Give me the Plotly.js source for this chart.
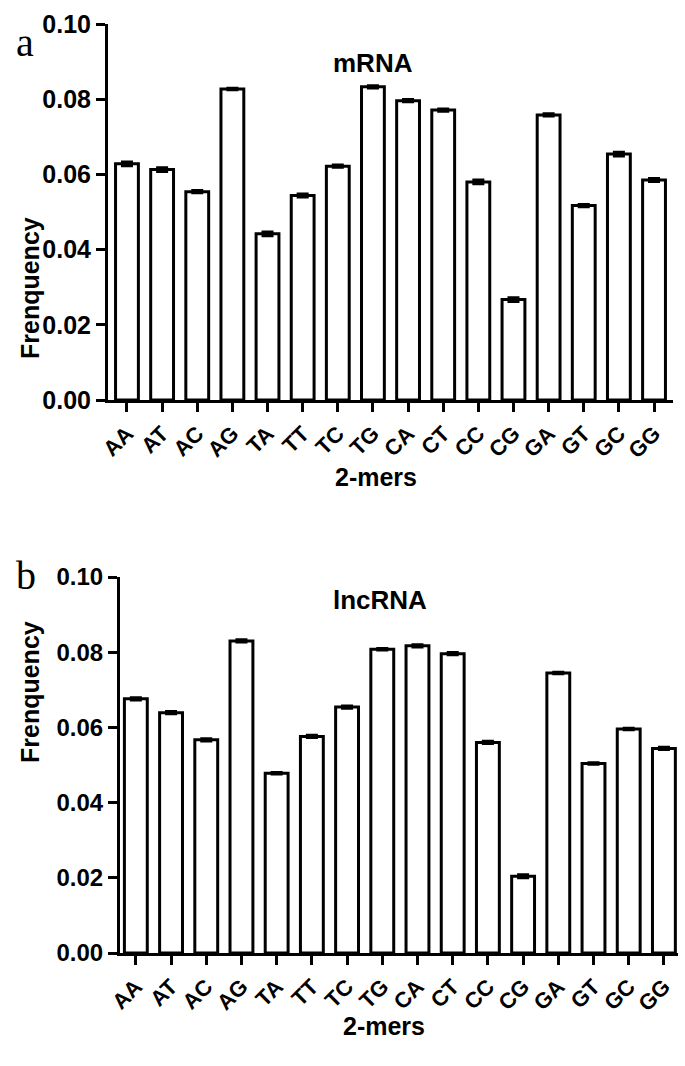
<!DOCTYPE html>
<html>
<head>
<meta charset="utf-8">
<script src="https://cdn.plot.ly/plotly-3.0.1.min.js"></script>
<style>html,body{margin:0;padding:0;background:#fff}#chart{width:685px;height:1066px}</style>
</head>
<body>
<div id="chart"></div>
<script>
const kmers = ["AA","AT","AC","AG","TA","TT","TC","TG","CA","CT","CC","CG","GA","GT","GC","GG"];
const mrnaFreq = [0.0628,0.0613,0.0554,0.0827,0.0442,0.0544,0.0622,0.0833,0.0796,0.0771,0.0580,0.0267,0.0758,0.0517,0.0654,0.0585];
const mrnaErr  = [0.0005,0.0005,0.0003,0.0002,0.0005,0.0004,0.0003,0.0003,0.0003,0.0003,0.0005,0.0005,0.0003,0.0003,0.0005,0.0004];
const lncFreq  = [0.0676,0.0639,0.0567,0.0830,0.0478,0.0576,0.0654,0.0808,0.0817,0.0796,0.0560,0.0204,0.0745,0.0504,0.0596,0.0544];
const lncErr   = [0.0003,0.0003,0.0003,0.0003,0.0002,0.0003,0.0003,0.0002,0.0003,0.0003,0.0003,0.0004,0.0002,0.0002,0.0002,0.0003];
const yTicks = [0,0.02,0.04,0.06,0.08,0.10];

const W = 685, H = 1066;
const px = v => v / W, py = v => 1 - v / H;
const font = "Liberation Sans, Arial, sans-serif";

function barTrace(y, err, xa, ya) {
  return {
    type: "bar", x: kmers, y: y, xaxis: xa, yaxis: ya,
    marker: {color: "#ffffff", line: {color: "#000000", width: 3}},
    error_y: {type: "data", array: err, visible: true, color: "#000000", thickness: 3, width: 6},
    hoverinfo: "none", showlegend: false
  };
}

function xAxis(domain, range, anchor) {
  return {
    domain: domain, anchor: anchor, range: range,
    type: "category", showline: true, linecolor: "#000", linewidth: 3,
    ticks: "outside", ticklen: 9, tickwidth: 3, tickcolor: "#000",
    tickangle: -45, showgrid: false, zeroline: false,
    tickfont: {family: font, size: 22, color: "#000", weight: "bold"}
  };
}
function yAxis(domain, anchor, fs) {
  return {
    domain: domain, anchor: anchor, range: [0, 0.1],
    tickvals: yTicks, tickformat: ".2f",
    showline: true, linecolor: "#000", linewidth: 3,
    ticks: "outside", ticklen: 9, tickwidth: 3, tickcolor: "#000",
    showgrid: false, zeroline: false,
    tickfont: {family: font, size: fs, color: "#000", weight: "bold"}
  };
}

const ann = (text, x, y, size, extra) => Object.assign({
  text: text, x: px(x), y: py(y), xref: "paper", yref: "paper",
  showarrow: false, font: {family: font, size: size, color: "#000", weight: "bold"}
}, extra || {});
const serif = {family: "Liberation Serif, Times New Roman, serif", size: 40, color: "#000"};

const layout = {
  width: W, height: H,
  margin: {l: 0, r: 0, t: 0, b: 0},
  paper_bgcolor: "#fff", plot_bgcolor: "#fff",
  bargap: 0.35,
  xaxis: xAxis([px(108), px(673)], [-0.54, 15.54], "y"),
  yaxis: yAxis([py(400), py(24)], "x", 25),
  xaxis2: xAxis([px(120), px(678)], [-0.45, 15.4], "y2"),
  yaxis2: yAxis([py(953), py(577)], "x2", 24),
  annotations: [
    ann("mRNA", 373, 46, 26),
    ann("lncRNA", 380, 600, 26),
    ann("Frenquency", 14, 215, 25, {textangle: -90}),
    ann("Frenquency", 14, 765, 25, {textangle: -90}),
    ann("2-mers", 376, 477, 25),
    ann("2-mers", 384, 1042, 25),
    ann("a", 14, 18, 40, {font: serif}),
    ann("b", 14, 575, 40, {font: serif})
  ]
};

Plotly.newPlot("chart", [barTrace(mrnaFreq, mrnaErr, "x", "y"), barTrace(lncFreq, lncErr, "x2", "y2")], layout, {staticPlot: true, displayModeBar: false});
</script>
</body>
</html>
